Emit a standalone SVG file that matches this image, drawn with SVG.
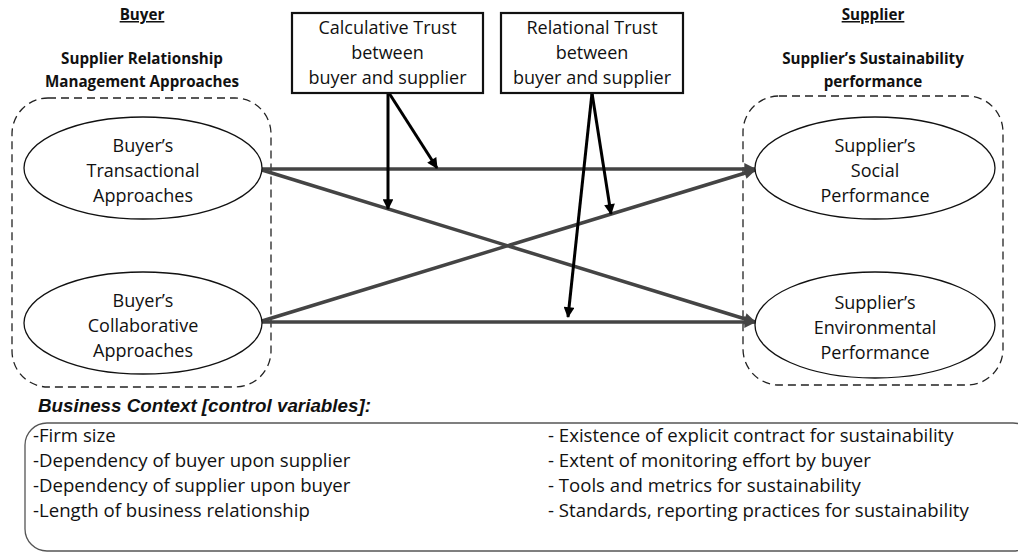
<svg xmlns="http://www.w3.org/2000/svg" width="1018" height="552" viewBox="0 0 1018 552">
  <style>
    .t { font-family: "Open Sans", "Liberation Sans", sans-serif; font-size: 18px; fill: #111; }
    .l { font-family: "Open Sans", "Liberation Sans", sans-serif; font-size: 18.6px; fill: #111; }
    .h { font-family: "Open Sans", "Liberation Sans", sans-serif; font-size: 15.2px; font-weight: bold; fill: #111; }
    .c { text-anchor: middle; }
    .group { fill: none; stroke: #222; stroke-width: 1.3; stroke-dasharray: 8 5; }
    .node { fill: #fff; stroke: #111; stroke-width: 1.3; }
    .box { fill: #fff; stroke: #111; stroke-width: 2.2; }
    .path { stroke: #444; stroke-width: 3.5; fill: none; marker-end: url(#gray); }
    .mod { stroke: #000; stroke-width: 3; fill: none; marker-end: url(#black); }
  </style>
  <defs>
    <marker id="gray" viewBox="0 0 10 10" refX="9" refY="5" markerWidth="4.2" markerHeight="3.4" markerUnits="strokeWidth" orient="auto">
      <path d="M0,0 L10,5 L0,10 z" fill="#444"/>
    </marker>
    <marker id="black" viewBox="0 0 10 10" refX="9" refY="5" markerWidth="4.4" markerHeight="3.6" markerUnits="strokeWidth" orient="auto">
      <path d="M0,0 L10,5 L0,10 z" fill="#000"/>
    </marker>
  </defs>
  <rect width="1018" height="552" fill="#fff"/>

  <!-- headings -->
  <g id="buyer-heading">
    <text class="h c" x="142" y="20" text-decoration="underline">Buyer</text>
    <text class="h c" x="142" y="64">Supplier Relationship</text>
    <text class="h c" x="142" y="87">Management Approaches</text>
  </g>
  <g id="supplier-heading">
    <text class="h c" x="873" y="20" text-decoration="underline">Supplier</text>
    <text class="h c" x="873" y="64">Supplier’s Sustainability</text>
    <text class="h c" x="873" y="87">performance</text>
  </g>

  <!-- dashed groupings -->
  <rect id="buyer-group" class="group" x="12" y="98" width="259" height="289" rx="36"/>
  <rect id="supplier-group" class="group" x="743" y="96" width="260" height="289" rx="36"/>

  <!-- connectors -->
  <g id="connectors">
    <line class="path" x1="262" y1="169" x2="755" y2="169"/>
    <line class="path" x1="262" y1="322" x2="755" y2="322"/>
    <line class="path" x1="262" y1="170" x2="755" y2="322"/>
    <line class="path" x1="262" y1="321" x2="755" y2="170"/>
    <line class="mod" x1="388" y1="93" x2="388" y2="209"/>
    <line class="mod" x1="389" y1="93" x2="437" y2="168"/>
    <line class="mod" x1="592" y1="93" x2="611" y2="214"/>
    <line class="mod" x1="592" y1="93" x2="568" y2="317"/>
  </g>

  <!-- moderator boxes -->
  <g id="calculative-trust">
    <rect class="box" x="292" y="13" width="191" height="80"/>
    <text class="t c" x="387.5" y="34">Calculative Trust</text>
    <text class="t c" x="387.5" y="59">between</text>
    <text class="t c" x="387.5" y="84">buyer and supplier</text>
  </g>
  <g id="relational-trust">
    <rect class="box" x="501" y="13" width="182" height="80"/>
    <text class="t c" x="592" y="34">Relational Trust</text>
    <text class="t c" x="592" y="59">between</text>
    <text class="t c" x="592" y="84">buyer and supplier</text>
  </g>

  <!-- buyer approaches -->
  <g id="transactional">
    <ellipse class="node" cx="143" cy="168" rx="119" ry="51"/>
    <text class="t c" x="143" y="152">Buyer’s</text>
    <text class="t c" x="143" y="177">Transactional</text>
    <text class="t c" x="143" y="202">Approaches</text>
  </g>
  <g id="collaborative">
    <ellipse class="node" cx="143" cy="323" rx="119" ry="51"/>
    <text class="t c" x="143" y="307">Buyer’s</text>
    <text class="t c" x="143" y="332">Collaborative</text>
    <text class="t c" x="143" y="357">Approaches</text>
  </g>

  <!-- supplier performance -->
  <g id="social">
    <ellipse class="node" cx="875" cy="168" rx="120" ry="51"/>
    <text class="t c" x="875" y="152">Supplier’s</text>
    <text class="t c" x="875" y="177">Social</text>
    <text class="t c" x="875" y="202">Performance</text>
  </g>
  <g id="environmental">
    <ellipse class="node" cx="875" cy="325" rx="120" ry="53"/>
    <text class="t c" x="875" y="309">Supplier’s</text>
    <text class="t c" x="875" y="334">Environmental</text>
    <text class="t c" x="875" y="359">Performance</text>
  </g>

  <!-- business context -->
  <g id="business-context">
    <text x="38" y="412" font-family="Liberation Sans, Arial, sans-serif" font-size="18.8" font-weight="bold" font-style="italic" fill="#111">Business Context [control variables]:</text>
    <rect x="25" y="423" width="1010" height="128" rx="22" fill="none" stroke="#555" stroke-width="1.3"/>
    <text class="l" x="33" y="442">-Firm size</text>
    <text class="l" x="33" y="467">-Dependency of buyer upon supplier</text>
    <text class="l" x="33" y="492">-Dependency of supplier upon buyer</text>
    <text class="l" x="33" y="517">-Length of business relationship</text>
    <text class="l" x="548" y="442">- Existence of explicit contract for sustainability</text>
    <text class="l" x="548" y="467">- Extent of monitoring effort by buyer</text>
    <text class="l" x="548" y="492">- Tools and metrics for sustainability</text>
    <text class="l" x="548" y="517">- Standards, reporting practices for sustainability</text>
  </g>
</svg>
